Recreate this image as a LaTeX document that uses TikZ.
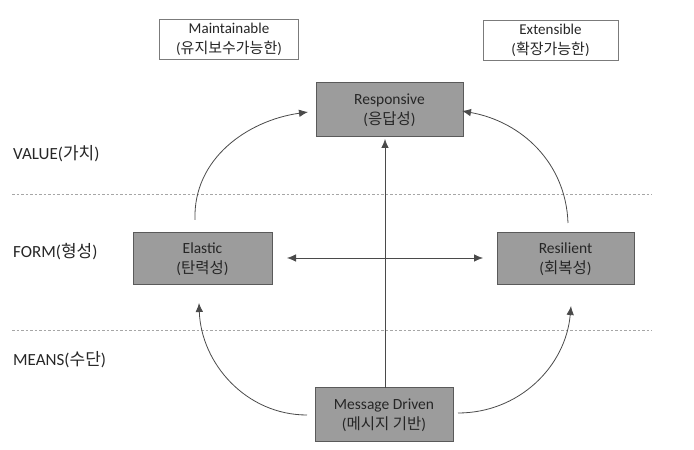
\documentclass[tikz,border=0pt]{standalone}
\usepackage{fontspec}
\setmainfont{Carlito}
\newfontfamily\kr{Noto Sans CJK KR}
\usetikzlibrary{arrows.meta}
\definecolor{boxfill}{HTML}{9C9C9C}
\definecolor{boxline}{HTML}{5A5A5A}
\definecolor{txt}{HTML}{262626}
\definecolor{arr}{HTML}{4A4A4A}
\tikzset{
  graybox/.style={draw=boxline, line width=1pt, fill=boxfill, align=center, inner sep=0pt,
    font=\fontsize{15.5}{20}\selectfont, text=txt},
  whitebox/.style={draw=boxline!80, line width=0.9pt, fill=white, align=center, inner sep=0pt,
    font=\fontsize{15}{20}\selectfont, text=txt},
  sidelabel/.style={anchor=west, inner sep=0pt, font=\fontsize{17}{19}\selectfont, text=txt},
  conn/.style={draw=arr, line width=0.8pt, -{Latex[length=9pt,width=7.5pt]}},
  dconn/.style={draw=arr, line width=0.8pt, {Latex[length=9pt,width=7.5pt]}-{Latex[length=9pt,width=7.5pt]}},
  sep/.style={draw=gray!70, line width=0.6pt, dash pattern=on 2.5pt off 2pt}
}
\begin{document}
\begin{tikzpicture}[x=1pt,y=1pt]
\useasboundingbox (0,0) rectangle (694,450);
% separators
\coordinate (s1l) at (12,256); \coordinate (s1r) at (652,256);
\coordinate (s2l) at (12,120); \coordinate (s2r) at (652,120);
\draw[sep] (s1l) -- (s1r);
\draw[sep] (s2l) -- (s2r);
% side labels
\node[sidelabel] (value) at (13,296) {VALUE({\kr 가치})};
\node[sidelabel] (form) at (13,198) {FORM({\kr 형성})};
\node[sidelabel] (means) at (13,90) {MEANS({\kr 수단})};
% top boxes
\node[whitebox, minimum width=139pt, minimum height=40pt] (maint) at (229,411) {Maintainable\\({\kr 유지보수가능한})};
\node[whitebox, minimum width=135pt, minimum height=40pt] (ext) at (550.5,410) {Extensible\\({\kr 확장가능한})};
% main boxes
\node[graybox, minimum width=147pt, minimum height=54pt] (resp) at (389.5,340) {Responsive\\({\kr 응답성})};
\node[graybox, minimum width=139pt, minimum height=52pt] (elas) at (202.5,191) {Elastic\\({\kr 탄력성})};
\node[graybox, minimum width=137pt, minimum height=52pt] (resi) at (565.5,191) {Resilient\\({\kr 회복성})};
\node[graybox, minimum width=138pt, minimum height=54pt] (msg) at (384,35) {Message Driven\\({\kr 메시지 기반})};
% connector ends
\coordinate (e1) at (195,230);   \coordinate (r1) at (308,338);
\coordinate (e2) at (568,227);   \coordinate (r2) at (462,339);
\coordinate (m1) at (307,35);    \coordinate (e3) at (199,147);
\coordinate (m2) at (458,37);    \coordinate (r3) at (571,144);
\coordinate (mv) at (385,62);    \coordinate (rv) at (385,311);
\coordinate (hl) at (287,192);   \coordinate (hr) at (483,192);
% connectors
\draw[conn] (e1) to[out=92,in=188] (r1);
\draw[conn] (e2) to[out=92,in=-10] (r2);
\draw[conn] (m1) to[out=180,in=-88] (e3);
\draw[conn] (m2) to[out=0,in=-95] (r3);
\draw[conn] (mv) -- (rv);
\draw[dconn] (hl) -- (hr);
\end{tikzpicture}
\end{document}
